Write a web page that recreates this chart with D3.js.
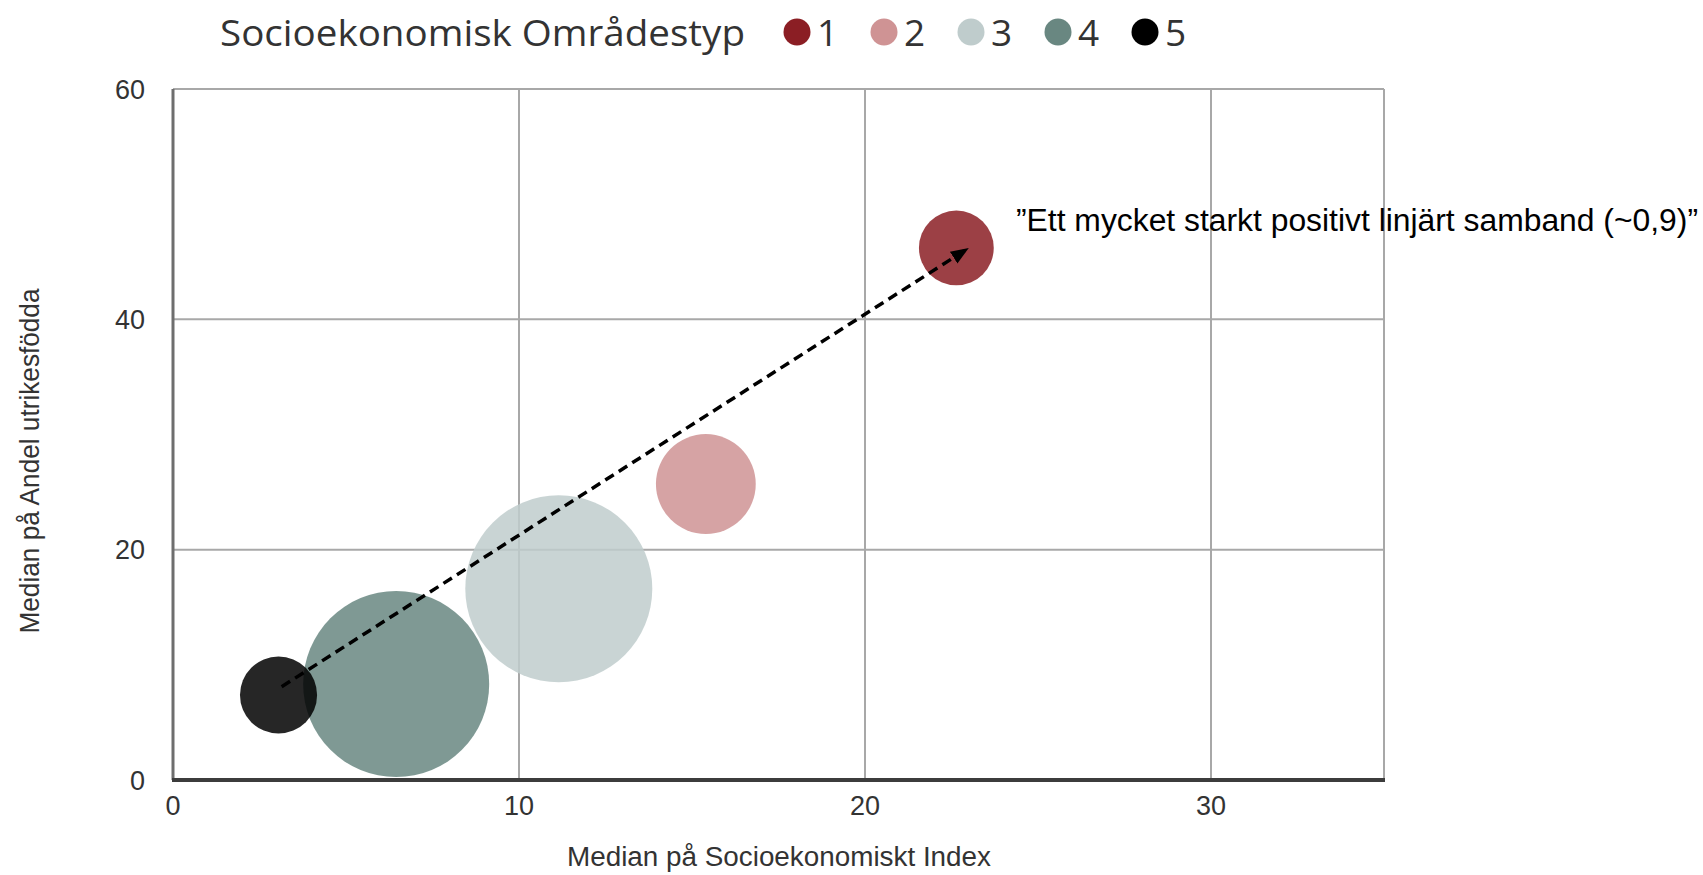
<!DOCTYPE html>
<html>
<head>
<meta charset="utf-8">
<title>Socioekonomisk Områdestyp</title>
<script src="https://d3js.org/d3.v7.min.js"></script>
<style>
  body { margin: 0; background: #fff; }
  .tick-y, .tick-x { font-family: "Liberation Sans", Arial, sans-serif; font-size: 27px; fill: #333; }
  .axis-title { font-family: "Liberation Sans", Arial, sans-serif; font-size: 27px; fill: #333; }
  .legend { font-family: "Open Sans", "Noto Sans", sans-serif; font-size: 37px; fill: #333; }
  .note { font-family: "Liberation Sans", Arial, sans-serif; font-size: 31px; fill: #000; }
</style>
</head>
<body>
<svg width="1703" height="875"></svg>
<script>
// data
const types = ["1", "2", "3", "4", "5"];
const sesIndex = [22.64, 15.4, 11.15, 6.45, 3.05];     // Median på Socioekonomiskt Index
const foreignBorn = [46.2, 25.7, 16.6, 8.33, 7.38];    // Median på Andel utrikesfödda
const bubbleSize = [160, 285, 1000, 990, 170];
const colors = ["#8b1e24", "#cf9394", "#bfcccc", "#698781", "#000000"];
const xTicks = [0, 10, 20, 30];
const yTicks = [0, 20, 40, 60];
const trendFrom = [3.14, 8.1];
const trendTo = [23.0, 46.2];
const note = "\u201dEtt mycket starkt positivt linjärt samband (~0,9)\u201d";

const svg = d3.select("svg");
const x = d3.scaleLinear().domain([0, 35]).range([173, 1384]);
const y = d3.scaleLinear().domain([0, 60]).range([780, 89]);
const r = d3.scaleSqrt().domain([0, 1000]).range([0, 93.5]);

// grid
svg.append("g").selectAll("line").data(xTicks.slice(1)).enter().append("line")
  .attr("x1", d => x(d)).attr("x2", d => x(d)).attr("y1", y(60)).attr("y2", y(0))
  .attr("stroke", "#a8a8a8").attr("stroke-width", 2);
svg.append("g").selectAll("line").data(yTicks.slice(1)).enter().append("line")
  .attr("x1", x(0)).attr("x2", x(35)).attr("y1", d => y(d)).attr("y2", d => y(d))
  .attr("stroke", "#a8a8a8").attr("stroke-width", 2);
// frame
svg.append("line").attr("x1", x(0)).attr("x2", x(35)).attr("y1", y(60)).attr("y2", y(60))
  .attr("stroke", "#a8a8a8").attr("stroke-width", 2);
svg.append("line").attr("x1", x(35)).attr("x2", x(35)).attr("y1", y(60)).attr("y2", y(0))
  .attr("stroke", "#a8a8a8").attr("stroke-width", 2);

// bubbles, biggest first
const pts = types.map((t, i) => ({t: t, x: sesIndex[i], y: foreignBorn[i], s: bubbleSize[i], c: colors[i]}));
svg.append("g").selectAll("circle").data(pts.slice().sort((a, b) => b.s - a.s)).enter().append("circle")
  .attr("cx", d => x(d.x)).attr("cy", d => y(d.y)).attr("r", d => r(d.s))
  .attr("fill", d => d.c).attr("fill-opacity", 0.85);

// axes lines
svg.append("line").attr("x1", x(0)).attr("x2", x(0)).attr("y1", y(60)).attr("y2", y(0))
  .attr("stroke", "#6e6e6e").attr("stroke-width", 3);
svg.append("line").attr("x1", x(0) - 1).attr("x2", x(35) + 1).attr("y1", y(0)).attr("y2", y(0))
  .attr("stroke", "#3c3c3c").attr("stroke-width", 4);

// tick labels
svg.append("g").selectAll("text").data(yTicks).enter().append("text")
  .attr("class", "tick-y").attr("x", 145).attr("y", d => y(d)).attr("dy", "0.36em")
  .attr("text-anchor", "end").text(d => d);
svg.append("g").selectAll("text").data(xTicks).enter().append("text")
  .attr("class", "tick-x").attr("x", d => x(d)).attr("y", 815)
  .attr("text-anchor", "middle").text(d => d);

// axis titles
svg.append("text").attr("class", "axis-title").attr("x", 779).attr("y", 866)
  .attr("text-anchor", "middle").attr("textLength", 424).attr("lengthAdjust", "spacingAndGlyphs")
  .text("Median på Socioekonomiskt Index");
svg.append("text").attr("class", "axis-title").attr("transform", "translate(39,461) rotate(-90)")
  .attr("text-anchor", "middle").attr("textLength", 345).attr("lengthAdjust", "spacingAndGlyphs")
  .text("Median på Andel utrikesfödda");

// trend arrow
svg.append("defs").append("marker").attr("id", "head")
  .attr("markerUnits", "userSpaceOnUse").attr("markerWidth", 20).attr("markerHeight", 20)
  .attr("viewBox", "0 0 20 20").attr("refX", 18).attr("refY", 10).attr("orient", "auto")
  .append("path").attr("d", "M0,3 L18,10 L0,17 Z").attr("fill", "#000");
svg.append("line")
  .attr("x1", x(trendFrom[0])).attr("y1", y(trendFrom[1]))
  .attr("x2", x(trendTo[0])).attr("y2", y(trendTo[1]))
  .attr("stroke", "#000").attr("stroke-width", 3.5).attr("stroke-dasharray", "10,6")
  .attr("marker-end", "url(#head)");

svg.append("text").attr("class", "note").attr("x", 1016).attr("y", 231)
  .attr("textLength", 682).attr("lengthAdjust", "spacingAndGlyphs").text(note);

// legend
svg.append("text").attr("class", "legend").attr("x", 220).attr("y", 46)
  .attr("textLength", 525).attr("lengthAdjust", "spacingAndGlyphs").text("Socioekonomisk Områdestyp");
const lg = svg.append("g").selectAll("g").data(pts).enter().append("g")
  .attr("transform", (d, i) => "translate(" + (797 + i * 87) + ",32)");
lg.append("circle").attr("r", 13.5).attr("fill", d => d.c);
lg.append("text").attr("class", "legend").attr("x", 20).attr("y", 14).text(d => d.t);
</script>
</body>
</html>
